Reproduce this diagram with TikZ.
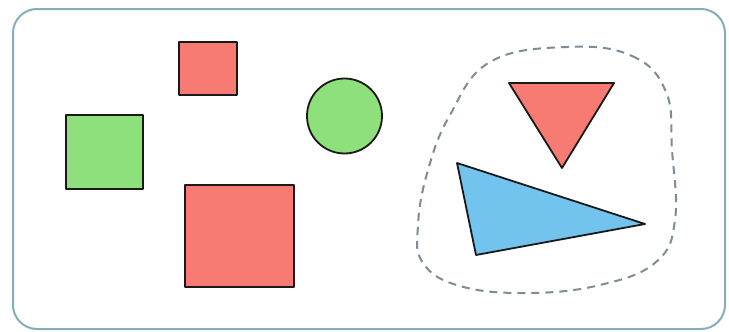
\documentclass[tikz,border=0pt]{standalone}
\begin{document}
\begin{tikzpicture}[x=1pt,y=-1pt,
  figline/.style={draw=black!80!gray,line width=1.8pt,line join=round},
  redf/.style={figline,fill=redc},
  greenf/.style={figline,fill=greenc},
  bluef/.style={figline,fill=bluec}]
\definecolor{redc}{HTML}{F77B73}
\definecolor{greenc}{HTML}{8DE07C}
\definecolor{bluec}{HTML}{72C3EE}
\definecolor{framec}{HTML}{86AEB8}
\definecolor{dashc}{HTML}{7D8C96}
\useasboundingbox (0,0) rectangle (729,332);
\fill[white] (0,0) rectangle (729,332);
\draw[framec,line width=2pt,rounded corners=24pt] (13,9) rectangle (725,329);
\draw[redf] (179,42) rectangle (237,95);
\draw[greenf] (66,115) rectangle (143,189);
\draw[greenf] (344.5,116) circle[radius=37.5];
\draw[redf] (185,185) rectangle (294,287);
\draw[dashc,line width=2pt,dash pattern=on 8pt off 6pt] plot[smooth cycle,tension=0.7] coordinates {
 (567,47) (632,56) (666,92) (672,150) (675,220) (656,262) (600,285) (527,293)
 (460,286) (423,263) (418,225) (428,170) (450,115) (490,62)};
\draw[redf] (509,83) -- (614,83) -- (562,168) -- cycle;
\draw[bluef] (457,163) -- (645,224) -- (476,255) -- cycle;
\end{tikzpicture}
\end{document}
